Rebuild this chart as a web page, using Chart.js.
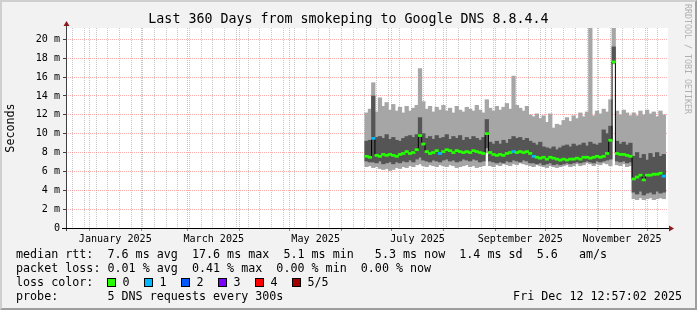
<!DOCTYPE html>
<html>
<head>
<meta charset="utf-8">
<script src="https://cdn.jsdelivr.net/npm/chart.js@4.4.1/dist/chart.umd.min.js"></script>
<style>
  html, body { margin: 0; padding: 0; background: #f2f2f2; }
  #graph { position: relative; width: 697px; height: 310px; background: #f2f2f2; overflow: hidden;
           font-family: "DejaVu Sans Mono", monospace; color: #000; }
  #graph canvas { position: absolute; left: 0; top: 0; }
  .frame { position: absolute; left: 0; top: 0; width: 697px; height: 310px; box-sizing: border-box;
           border-top: 2px solid #cfcfcf; border-left: 2px solid #cfcfcf;
           border-right: 2px solid #9e9e9e; border-bottom: 2px solid #9e9e9e; pointer-events: none; }
  .title { position: absolute; left: 0; top: 11px; width: 697px; text-align: center;
           font-size: 13.3px; line-height: 16px; white-space: pre; }
  .row { position: absolute; left: 16px; font-size: 11.7px; line-height: 14px; white-space: pre; }
  .stamp { position: absolute; right: 15px; top: 289px; font-size: 11.7px; line-height: 14px; white-space: pre; }
  .wm { position: absolute; left: 683px; top: 4px; writing-mode: vertical-rl; font-size: 8.3px;
        line-height: 10px; color: #b0b0b0; white-space: pre; }
  .lc { display: inline-block; width: 37px; }
  .lc i { display: inline-block; width: 7px; height: 7px; border: 1px solid #000; margin-right: 6px;
          vertical-align: -1px; }
</style>
</head>
<body>
<div id="graph">
  <canvas id="c" width="697" height="310"></canvas>
  <div class="title">Last 360 Days from smokeping to Google DNS 8.8.4.4</div>
  <div class="row" style="top:247px">median rtt:  7.6 ms avg  17.6 ms max  5.1 ms min   5.3 ms now  1.4 ms sd  5.6   am/s</div>
  <div class="row" style="top:261px">packet loss: 0.01 % avg  0.41 % max  0.00 % min  0.00 % now</div>
  <div class="row" id="lossrow" style="top:275px">loss color:  </div>
  <div class="row" style="top:289px">probe:       5 DNS requests every 300s</div>
  <div class="stamp">Fri Dec 12 12:57:02 2025</div>
  <div class="wm">RRDTOOL / TOBI OETIKER</div>
  <div class="frame"></div>
</div>
<script>
// days counted from 1 January 2025, one bin = 2 days
var binDay = [166,168,170,172,174,176,178,180,182,184,
              186,188,190,192,194,196,198,200,202,204,
              206,208,210,212,214,216,218,220,222,224,
              226,228,230,232,234,236,238,240,242,244,
              246,248,250,252,254,256,258,260,262,264,
              266,268,270,272,274,276,278,280,282,284,
              286,288,290,292,294,296,298,300,302,304,
              306,308,310,312,314,316,318,320,322,324,
              326,328,330,332,334,336,338,340,342,344];

// smoke: outer band (min..max ping), inner band, in ms
var lightLow = [6.5,6.6,6.4,6.5,6.3,6.2,6.3,6.1,6.2,6.4,
                6.3,6.5,6.4,6.6,6.5,6.7,6.8,6.6,6.5,6.7,
                6.6,6.5,6.7,6.6,6.5,6.7,6.6,6.4,6.5,6.6,
                6.7,6.5,6.6,6.4,6.5,6.6,8.0,6.6,6.5,6.7,
                6.6,6.8,6.7,6.6,6.8,6.7,6.9,6.8,6.7,6.6,
                6.5,6.7,6.6,6.5,6.4,6.6,6.5,6.4,6.5,6.6,
                6.7,6.5,6.6,6.8,6.6,6.7,6.9,6.8,6.6,6.8,
                6.7,6.9,6.8,6.6,17.4,6.7,6.6,6.8,6.5,6.6,
                3.1,3.0,3.2,3.0,3.1,3.2,3.0,3.1,3.2,3.1];
var lightHigh = [12.2,12.6,15.4,12.3,13.8,12.9,13.3,12.5,13.1,12.4,
                 12.8,12.2,12.9,12.4,12.7,13.0,16.9,13.4,12.6,12.9,
                 12.3,12.8,12.5,13.0,12.4,12.7,12.2,12.9,12.5,12.3,
                 12.8,12.6,12.4,13.0,12.5,12.2,13.6,12.7,12.4,12.9,
                 12.5,12.8,13.2,12.6,16.1,13.0,12.7,12.4,12.9,12.0,
                 11.8,12.1,11.6,11.9,11.2,12.1,10.6,11.0,10.9,11.4,
                 11.7,11.3,11.9,11.6,12.2,11.8,12.3,22.0,11.9,12.4,
                 12.1,12.6,12.3,13.6,22.0,12.4,12.0,12.5,12.2,11.9,
                 12.2,11.9,12.4,12.0,12.5,12.1,12.3,11.8,12.4,12.0];
var darkLow = [7.1,7.0,7.0,6.9,7.1,6.8,6.9,7.0,6.8,7.0,
               6.9,7.1,7.0,7.2,7.0,7.3,7.5,7.2,7.1,7.0,
               7.2,7.1,7.0,7.2,7.3,7.1,7.2,7.0,7.1,7.3,
               7.2,7.1,7.3,7.2,7.0,7.1,8.5,7.1,7.0,6.9,
               7.0,6.9,7.1,7.0,7.2,7.1,7.0,7.2,7.1,6.9,
               6.9,6.8,6.9,6.7,6.8,6.9,6.7,6.8,6.7,6.8,
               6.9,6.8,6.9,7.0,6.9,7.0,7.1,7.0,6.9,7.1,
               7.0,7.1,7.2,7.3,17.5,7.1,7.0,7.1,6.9,7.0,
               3.8,3.6,3.9,3.5,3.7,3.8,3.6,3.9,3.7,3.8];
var darkHigh = [9.2,9.3,14.0,9.6,9.7,9.5,9.9,9.4,9.6,9.3,
                9.2,9.5,9.7,9.8,9.6,9.9,11.7,10.0,9.5,9.7,
                9.4,9.8,9.5,9.6,9.9,9.4,9.7,9.5,9.8,9.3,
                9.6,9.4,9.7,9.5,9.3,9.6,11.5,9.1,8.9,9.2,
                8.9,9.3,9.0,9.4,9.7,9.5,9.6,9.3,9.5,9.2,
                9.0,8.8,9.1,8.6,8.5,8.4,8.6,8.3,8.5,8.7,
                8.8,8.6,8.9,8.7,8.8,9.0,8.7,9.1,8.9,8.8,
                9.0,10.4,10.0,10.8,19.2,9.2,8.9,9.1,8.8,9.0,
                7.6,8.0,7.4,7.8,7.2,7.9,7.5,8.0,7.6,7.8];
var medianRtt = [7.6,7.5,9.5,7.7,7.6,7.8,7.7,7.8,7.7,7.6,
                 7.8,7.9,8.1,7.9,8.0,8.3,9.8,8.9,8.1,7.9,
                 8.0,8.2,7.9,8.1,8.3,8.2,8.0,8.2,8.1,8.0,
                 8.1,8.0,8.2,8.1,8.0,7.9,10.0,8.0,7.8,7.7,
                 7.8,7.7,7.9,8.0,8.1,8.0,8.1,8.0,8.1,7.9,
                 7.6,7.5,7.4,7.5,7.3,7.5,7.4,7.3,7.2,7.3,
                 7.2,7.3,7.3,7.4,7.3,7.5,7.5,7.4,7.5,7.6,
                 7.5,7.6,7.9,9.3,17.6,7.9,7.8,7.8,7.7,7.6,
                 5.2,5.4,5.6,5.1,5.6,5.6,5.7,5.7,5.8,5.5];
// lost pings out of 5
var lossCount = [0,0,1,0,0,0,0,0,0,0,
                 0,0,0,0,0,0,0,0,0,0,
                 0,0,1,0,0,0,0,0,0,0,
                 0,0,0,0,0,0,0,0,0,0,
                 0,0,0,0,1,0,0,0,0,0,
                 1,0,0,0,0,0,0,0,0,0,
                 0,0,0,0,0,0,0,0,0,0,
                 0,0,0,0,0,0,0,0,0,0,
                 0,0,0,0,0,0,0,0,0,1];

var lossColors = ['#26ff00', '#00b8ff', '#0059ff', '#7e00ff', '#ff0000', '#a10000'];
var lossLabels = ['0', '1', '2', '3', '4', '5/5'];

var monthStart = [0, 31, 59, 90, 120, 151, 181, 212, 243, 273, 304, 334];
var monthLabelDay = [15.5, 74.5, 135.5, 196.5, 258, 319];
var monthLabel = ['January 2025', 'March 2025', 'May 2025', 'July 2025', 'September 2025', 'November 2025'];
var yTicks = [0,1,2,3,4,5,6,7,8,9,10,11,12,13,14,15,16,17,18,19,20,21];

// week lines on sundays (5 Jan 2025 = day 4)
var weekDay = [];
for (var d = -10; d <= 346; d += 7) weekDay.push(d);

var xTicks = [];
monthStart.concat(weekDay, monthLabelDay).forEach(function (v) {
  if (xTicks.indexOf(v) < 0) xTicks.push(v);
});
xTicks.sort(function (a, b) { return a - b; });

// legend boxes
var row = document.getElementById('lossrow');
lossLabels.forEach(function (t, i) {
  var s = document.createElement('span');
  s.className = 'lc';
  s.innerHTML = '<i style="background:' + lossColors[i] + '"></i>' + t;
  row.appendChild(s);
});

function bands(lo, hi) {
  return binDay.map(function (d, i) { return { x: d, y: [lo[i], hi[i]] }; });
}

// one column per 2-day bin (~3.3 px), a little overlap to hide seams
var barOpts = { grouped: false, barThickness: 3.6, borderWidth: 0, clip: 0 };

var plotBack = {
  id: 'plotBack',
  beforeDraw: function (chart) {
    var a = chart.chartArea, ctx = chart.ctx;
    ctx.save();
    ctx.fillStyle = '#ffffff';
    ctx.fillRect(a.left, a.top, a.right - a.left, a.bottom - a.top);
    ctx.restore();
  },
  afterDraw: function (chart) {
    var a = chart.chartArea, ctx = chart.ctx;
    var x0 = a.left + 0.5, y0 = a.bottom + 0.5;
    ctx.save();
    ctx.lineWidth = 1;
    ctx.strokeStyle = '#404040';
    ctx.beginPath();
    ctx.moveTo(x0, a.bottom + 3);
    ctx.lineTo(x0, a.top - 3);
    ctx.stroke();
    ctx.strokeStyle = '#000000';
    ctx.beginPath();
    ctx.moveTo(a.left - 4, y0);
    ctx.lineTo(a.right + 1, y0);
    ctx.stroke();
    ctx.fillStyle = '#8b1a1a';
    ctx.beginPath();
    ctx.moveTo(x0, a.top - 7);
    ctx.lineTo(x0 - 3, a.top - 2);
    ctx.lineTo(x0 + 3, a.top - 2);
    ctx.closePath();
    ctx.fill();
    ctx.beginPath();
    ctx.moveTo(a.right + 6, y0);
    ctx.lineTo(a.right + 1, y0 - 3);
    ctx.lineTo(a.right + 1, y0 + 3);
    ctx.closePath();
    ctx.fill();
    ctx.restore();
  }
};

Chart.defaults.font.family = '"DejaVu Sans Mono", monospace';
Chart.defaults.color = '#000';

new Chart(document.getElementById('c'), {
  type: 'bar',
  data: {
    datasets: [
      Object.assign({ label: 'smoke', data: bands(lightLow, lightHigh), backgroundColor: '#a6a6a6', order: 4 }, barOpts),
      Object.assign({ label: 'smoke inner', data: bands(darkLow, darkHigh), backgroundColor: '#555555', order: 3 }, barOpts),
      {
        type: 'line', label: 'median', order: 2, clip: 0,
        data: binDay.map(function (d, i) { return { x: d, y: medianRtt[i] }; }),
        borderColor: '#000000', borderWidth: 1, stepped: 'middle', pointRadius: 0, fill: false
      },
      Object.assign({
        label: 'median rtt', order: 1,
        data: binDay.map(function (d, i) { return { x: d, y: [medianRtt[i] - 0.11, medianRtt[i] + 0.11] }; }),
        backgroundColor: lossCount.map(function (n) { return lossColors[n]; })
      }, barOpts)
    ]
  },
  options: {
    responsive: false,
    animation: false,
    devicePixelRatio: 1,
    layout: { padding: { left: 0, top: 28, right: 29, bottom: 66 }, autoPadding: false },
    plugins: { legend: { display: false }, tooltip: { enabled: false }, title: { display: false } },
    scales: {
      x: {
        type: 'linear', min: -14, max: 346.5, offset: false, z: 1,
        afterBuildTicks: function (s) { s.ticks = xTicks.map(function (v) { return { value: v }; }); },
        afterFit: function (s) { s.height = 16; },
        grid: {
          offset: false, lineWidth: 1, drawTicks: true, tickLength: 3, tickBorderDash: [],
          color: function (c) {
            var v = c.tick && c.tick.value;
            if (monthStart.indexOf(v) >= 0) return 'rgba(255,70,70,0.45)';
            if (weekDay.indexOf(v) >= 0) return 'rgba(130,130,130,0.45)';
            return 'rgba(0,0,0,0)';
          },
          tickColor: function (c) {
            var v = c.tick && c.tick.value;
            return monthStart.indexOf(v) >= 0 ? 'rgba(220,60,60,0.7)' : 'rgba(0,0,0,0)';
          }
        },
        border: { display: false, dash: [1, 1] },
        ticks: {
          autoSkip: false, maxRotation: 0, padding: 2, font: { size: 10.1 }, color: '#000',
          callback: function (v) {
            var k = monthLabelDay.indexOf(v);
            return k >= 0 ? monthLabel[k] : '';
          }
        }
      },
      y: {
        min: 0, max: 21.2, z: 1,
        afterBuildTicks: function (s) { s.ticks = yTicks.map(function (v) { return { value: v }; }); },
        afterFit: function (s) { s.width = 66; },
        grid: {
          lineWidth: 1, drawTicks: true, tickLength: 3, tickBorderDash: [],
          color: function (c) {
            var v = c.tick && c.tick.value;
            if (v === 0) return 'rgba(0,0,0,0)';
            return v % 2 === 0 ? 'rgba(255,70,70,0.45)' : 'rgba(130,130,130,0.45)';
          },
          tickColor: function (c) {
            var v = c.tick && c.tick.value;
            return v % 2 === 0 ? '#404040' : 'rgba(0,0,0,0)';
          }
        },
        border: { display: false, dash: [1, 1] },
        ticks: {
          padding: 3, font: { size: 10.1 }, color: '#000',
          callback: function (v) {
            if (v % 2 !== 0) return '';
            return v === 0 ? '0' : v + ' m';
          }
        },
        title: { display: true, text: 'Seconds', font: { size: 11.7 }, color: '#000', padding: { top: 4, bottom: 0 } }
      }
    }
  },
  plugins: [plotBack]
});
</script>
</body>
</html>
